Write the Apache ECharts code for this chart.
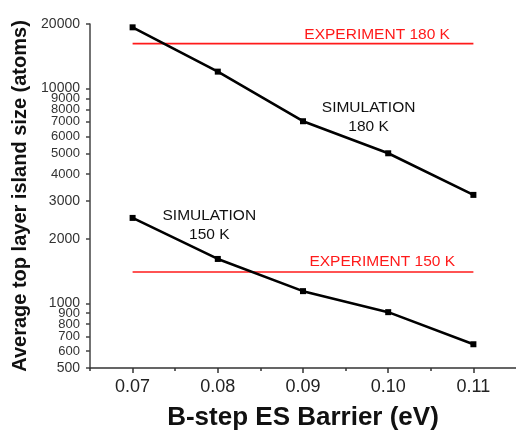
<!DOCTYPE html>
<html>
<head>
<meta charset="utf-8">
<script src="https://cdn.jsdelivr.net/npm/echarts@6/dist/echarts.min.js"></script>
<style>
  html, body { margin: 0; padding: 0; background: #fff; }
  #chart { width: 516px; height: 439px; }
</style>
</head>
<body>
<div id="chart"></div>
<script>
// Barrier values (eV)
const barriers = [0.07, 0.08, 0.09, 0.10, 0.11];
// Simulated average top-layer island sizes (atoms)
const sim180 = [19300, 12000, 7050, 5000, 3200];
const sim150 = [2500, 1610, 1140, 910, 645];
// Experimental reference sizes (atoms)
const exp180 = 16200;
const exp150 = 1400;
// Axis ticks
const xMajorTicks = [0.07, 0.08, 0.09, 0.10, 0.11];
const xMinorTicks = [0.065, 0.075, 0.085, 0.095, 0.105];
const yTicks = [500, 600, 700, 800, 900, 1000, 2000, 3000, 4000, 5000,
                6000, 7000, 8000, 9000, 10000, 20000];

const FONT = 'Liberation Sans, Arial, sans-serif';

const chart = echarts.init(document.getElementById('chart'), null, { renderer: 'canvas' });

function pairs(xs, ys) { return xs.map((x, i) => [x, ys[i]]); }

const textLabel = (color) => ({
  show: true, color: color, fontFamily: FONT, fontSize: 15.5, lineHeight: 19,
  align: 'center', verticalAlign: 'middle', position: 'inside'
});

const option = {
  animation: false,
  backgroundColor: '#fff',
  grid: { left: 90, right: -4, top: 24, bottom: 71, containLabel: false },
  xAxis: [{
    type: 'value', min: 0.065, max: 0.115,
    name: 'B-step ES Barrier (eV)', nameLocation: 'middle', nameGap: 37,
    nameTextStyle: { fontFamily: FONT, fontSize: 26, fontWeight: 'bold', color: '#111' },
    axisLine: { show: true, lineStyle: { color: '#333', width: 1.5 } },
    axisTick: { show: true, customValues: xMajorTicks, length: 5, inside: false,
                lineStyle: { color: '#333', width: 1.5 } },
    axisLabel: { customValues: xMajorTicks, margin: 10, fontFamily: FONT, fontSize: 18, color: '#222',
                 formatter: v => v.toFixed(2) },
    splitLine: { show: false }
  }, {
    type: 'value', min: 0.065, max: 0.115, position: 'bottom',
    axisLine: { show: false },
    axisTick: { show: true, customValues: xMinorTicks, length: 3,
                lineStyle: { color: '#333', width: 1.5 } },
    axisLabel: { show: false },
    splitLine: { show: false }
  }],
  yAxis: {
    type: 'log', logBase: 10, min: 500, max: 20000,
    name: 'Average top layer island size (atoms)', nameLocation: 'middle', nameGap: 60,
    nameTextStyle: { fontFamily: FONT, fontSize: 20, fontWeight: 'bold', color: '#111' },
    axisLine: { show: true, lineStyle: { color: '#444', width: 1.5 } },
    axisTick: { show: true, customValues: yTicks, length: 4, lineStyle: { color: '#444', width: 1.5 } },
    axisLabel: {
      customValues: yTicks, margin: 10, fontFamily: FONT, color: '#333',
      formatter: v => {
        const r = Math.round(v);
        const major = (r === 500 || r === 1000 || r === 2000 || r === 3000 || r === 10000 || r === 20000);
        return major ? '{a|' + r + '}' : '{b|' + r + '}';
      },
      rich: {
        a: { fontFamily: FONT, fontSize: 14, color: '#333' },
        b: { fontFamily: FONT, fontSize: 13, color: '#333', lineHeight: 11 }
      }
    },
    splitLine: { show: false }
  },
  series: [
    {
      name: 'SIMULATION 180 K', type: 'line', data: pairs(barriers, sim180),
      symbol: 'rect', symbolSize: 6, showSymbol: true,
      lineStyle: { color: '#000', width: 2.6 }, itemStyle: { color: '#000' },
      markPoint: {
        symbol: 'circle', symbolSize: 0, silent: true,
        data: [{ coord: [0.0977, 7380], value: 0,
                 label: Object.assign(textLabel('#111'), { formatter: 'SIMULATION\n180 K' }) }]
      },
      z: 3
    },
    {
      name: 'SIMULATION 150 K', type: 'line', data: pairs(barriers, sim150),
      symbol: 'rect', symbolSize: 6, showSymbol: true,
      lineStyle: { color: '#000', width: 2.6 }, itemStyle: { color: '#000' },
      markPoint: {
        symbol: 'circle', symbolSize: 0, silent: true,
        data: [{ coord: [0.0790, 2300], value: 0,
                 label: Object.assign(textLabel('#111'), { formatter: 'SIMULATION\n150 K' }) }]
      },
      z: 3
    },
    {
      name: 'EXPERIMENT 180 K', type: 'line',
      data: [[barriers[0], exp180], [barriers[barriers.length - 1], exp180]],
      symbol: 'none', lineStyle: { color: '#ff1a1a', width: 1.6 },
      markPoint: {
        symbol: 'circle', symbolSize: 0, silent: true,
        data: [{ coord: [0.0987, 17800], value: 0,
                 label: Object.assign(textLabel('#ff1a1a'), { formatter: 'EXPERIMENT 180 K' }) }]
      },
      z: 2
    },
    {
      name: 'EXPERIMENT 150 K', type: 'line',
      data: [[barriers[0], exp150], [barriers[barriers.length - 1], exp150]],
      symbol: 'none', lineStyle: { color: '#ff1a1a', width: 1.6 },
      markPoint: {
        symbol: 'circle', symbolSize: 0, silent: true,
        data: [{ coord: [0.0993, 1563], value: 0,
                 label: Object.assign(textLabel('#ff1a1a'), { formatter: 'EXPERIMENT 150 K' }) }]
      },
      z: 2
    }
  ]
};

chart.setOption(option);
</script>
</body>
</html>
